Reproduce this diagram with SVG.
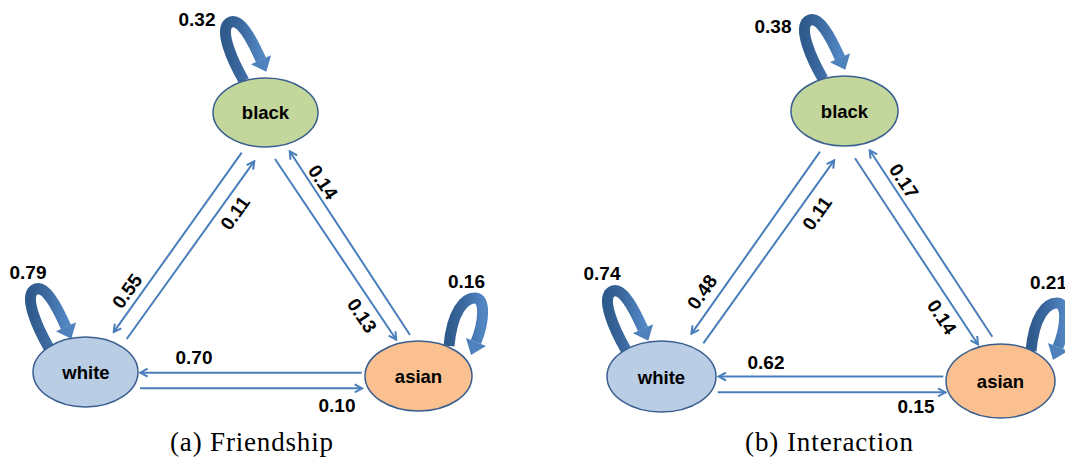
<svg xmlns="http://www.w3.org/2000/svg" width="1065" height="463" viewBox="0 0 1065 463">
<style>
.edge{stroke:#4A7EBB;stroke-width:2;fill:none;marker-end:url(#arr)}
.node{stroke:#3A5F8F;stroke-width:1.5}
.lbl{font-family:"Liberation Sans",Arial,sans-serif;font-weight:bold;font-size:19px;fill:#000;text-anchor:middle}
.nl{font-family:"Liberation Sans",Arial,sans-serif;font-weight:bold;font-size:18.5px;fill:#000;text-anchor:middle}
.cap{font-family:"Liberation Serif","Times New Roman",serif;font-size:27px;fill:#000;text-anchor:middle}
.loop{stroke:url(#lg);stroke-width:11;fill:none}
.head{fill:#4F81BD}
</style>
<defs>
<linearGradient id="lg" x1="0" y1="0" x2="1" y2="0">
<stop offset="0" stop-color="#2F5A8C"/>
<stop offset="0.45" stop-color="#3B69A0"/>
<stop offset="1" stop-color="#5186C3"/>
</linearGradient>
<marker id="arr" viewBox="0 0 10 10" refX="8" refY="5" markerWidth="10" markerHeight="10" markerUnits="userSpaceOnUse" orient="auto">
<path d="M1,1 L8.5,5 L1,9" fill="none" stroke="#4A7EBB" stroke-width="2"/>
</marker>
<g id="loopTop">
<path class="loop" d="M 244 81 C 232 60, 219 30, 229 23 C 240 16, 252 40, 261 60"/>
<polygon class="head" points="250.9,64.3 271.1,55.3 266.3,71.8"/>
</g>
<g id="loopSide">
<path class="loop" d="M 449 346 C 452 312, 464 298, 475 298 C 486 298, 484 322, 476 342"/>
<polygon class="head" points="466,338 486,346 471,355"/>
</g>
</defs>

<g id="connectors">
<line class="edge" x1="241.7" y1="152.7" x2="114" y2="331.7"/>
<line class="edge" x1="126.7" y1="339" x2="254" y2="161.7"/>
<line class="edge" x1="275" y1="159" x2="396" y2="339.3"/>
<line class="edge" x1="410" y1="335" x2="290" y2="151.7"/>
<line class="edge" x1="361.7" y1="372.7" x2="140.7" y2="372.7"/>
<line class="edge" x1="140" y1="388.3" x2="361.7" y2="388.3"/>
<line class="edge" x1="820" y1="151.7" x2="691.7" y2="333.3"/>
<line class="edge" x1="703.3" y1="343.3" x2="834" y2="160.7"/>
<line class="edge" x1="855" y1="158.3" x2="977.7" y2="344"/>
<line class="edge" x1="992.3" y1="336.7" x2="870" y2="150.7"/>
<line class="edge" x1="943.3" y1="376.5" x2="719" y2="376.5"/>
<line class="edge" x1="717.7" y1="392.3" x2="945" y2="392.3"/>
<use href="#loopTop"/>
<use href="#loopTop" transform="translate(-195,267)"/>
<use href="#loopSide"/>
<use href="#loopTop" transform="translate(579,-2)"/>
<use href="#loopTop" transform="translate(382,269)"/>
<use href="#loopSide" transform="translate(582,5)"/>
</g>

<g id="edge-labels">
<text class="lbl" x="197" y="19" dy="0.35em">0.32</text>
<text class="lbl" x="28" y="272" dy="0.35em">0.79</text>
<text class="lbl" x="466.5" y="281" dy="0.35em">0.16</text>
<text class="lbl" transform="translate(127,291) rotate(-54.5)" dy="0.35em">0.55</text>
<text class="lbl" transform="translate(235,213) rotate(-54.5)" dy="0.35em">0.11</text>
<text class="lbl" transform="translate(323,182) rotate(56)" dy="0.35em">0.14</text>
<text class="lbl" transform="translate(362,315.5) rotate(56)" dy="0.35em">0.13</text>
<text class="lbl" x="194" y="357" dy="0.35em">0.70</text>
<text class="lbl" x="337" y="405" dy="0.35em">0.10</text>
<text class="lbl" x="773" y="26" dy="0.35em">0.38</text>
<text class="lbl" x="602" y="273" dy="0.35em">0.74</text>
<text class="lbl" x="1048.5" y="282" dy="0.35em">0.21</text>
<text class="lbl" transform="translate(702,292) rotate(-54.8)" dy="0.35em">0.48</text>
<text class="lbl" transform="translate(817,213.3) rotate(-54.8)" dy="0.35em">0.11</text>
<text class="lbl" transform="translate(904,181) rotate(56.5)" dy="0.35em">0.17</text>
<text class="lbl" transform="translate(942,317) rotate(56.5)" dy="0.35em">0.14</text>
<text class="lbl" x="766" y="362" dy="0.35em">0.62</text>
<text class="lbl" x="916" y="406" dy="0.35em">0.15</text>
</g>

<g id="a-black"><ellipse class="node" cx="265.5" cy="112.5" rx="52.5" ry="34.5" fill="#C3D69B"/><text class="nl" x="265.5" y="113" dy="0.35em">black</text></g>
<g id="a-white"><ellipse class="node" cx="85.5" cy="372" rx="52.5" ry="35" fill="#B9CDE5"/><text class="nl" x="86" y="373" dy="0.35em">white</text></g>
<g id="a-asian"><ellipse class="node" cx="418.5" cy="376" rx="53.5" ry="35" fill="#FAC090"/><text class="nl" x="418.5" y="377" dy="0.35em">asian</text></g>
<g id="b-black"><ellipse class="node" cx="844.5" cy="111" rx="53.5" ry="35" fill="#C3D69B"/><text class="nl" x="844.5" y="111.5" dy="0.35em">black</text></g>
<g id="b-white"><ellipse class="node" cx="661.5" cy="376.5" rx="54.5" ry="35.5" fill="#B9CDE5"/><text class="nl" x="661.5" y="377.5" dy="0.35em">white</text></g>
<g id="b-asian"><ellipse class="node" cx="1000.5" cy="381" rx="54.5" ry="37" fill="#FAC090"/><text class="nl" x="1000.5" y="381.5" dy="0.35em">asian</text></g>

<g id="captions">
<text class="cap" x="251.5" y="451" textLength="163" lengthAdjust="spacing">(a) Friendship</text>
<text class="cap" x="829" y="451" textLength="168" lengthAdjust="spacing">(b) Interaction</text>
</g>
</svg>
